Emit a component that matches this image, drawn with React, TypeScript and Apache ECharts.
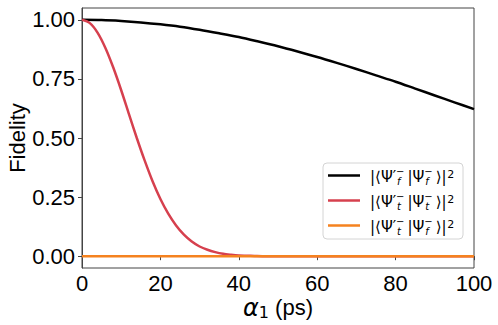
import { useEffect, useRef } from "react";
import * as echarts from "echarts";

// Readings from the reference (x in ps, y = fidelity)
const xFF = [0, 5, 10, 15, 20, 25, 30, 35, 40, 45, 50, 55, 60, 65, 70, 75, 80, 85, 90, 95, 100];
const fidelityFF = [1, 0.999, 0.995, 0.989, 0.981, 0.971, 0.958, 0.943, 0.927, 0.908, 0.888, 0.866, 0.843, 0.818, 0.792, 0.765, 0.738, 0.709, 0.68, 0.651, 0.622];

const xTT = [0, 2, 4, 6, 8, 10, 12, 14, 16, 18, 20, 22, 24, 26, 28, 30, 32, 34, 36, 38, 40, 42, 44, 46, 48, 50, 60, 70, 80, 90, 100];
const fidelityTT = [1, 0.986, 0.945, 0.88, 0.797, 0.702, 0.6, 0.499, 0.404, 0.317, 0.242, 0.18, 0.13, 0.091, 0.062, 0.041, 0.027, 0.017, 0.01, 0.006, 0.003, 0.002, 0.001, 0, 0, 0, 0, 0, 0, 0, 0];

const xTF = [0, 20, 40, 60, 80, 100];
const fidelityTF = [0, 0, 0, 0, 0, 0];

const yTicks = [0, 0.25, 0.5, 0.75, 1];
const seriesNames = ["FF", "TT", "TF"];
const subFirst = ["f", "t", "t"];
const subSecond = ["f", "t", "f"];
const colors = ["#000000", "#d6404e", "#f5821f"];

const pairs = (xs: number[], ys: number[]) => xs.map((x, i) => [x, ys[i]]);

export default function App() {
  const ref = useRef<HTMLDivElement>(null);
  useEffect(() => {
    const chart = echarts.init(ref.current!, null, { renderer: "svg" });
    const mathFont = "DejaVu Sans";
    const textFont = "Liberation Sans, Arial";

    const ctx = document.createElement("canvas").getContext("2d")!;
    const measure = (text: string, size: number, italic = false) => {
      ctx.font = `${italic ? "italic " : ""}${size}px "${mathFont}"`;
      return ctx.measureText(text).width;
    };

    const mainSize = 15;
    const scriptSize = 10;
    const legendX = 370;
    const legendGraphics: any[] = [
      {
        type: "rect",
        z: 100,
        shape: { x: 323, y: 163, width: 140, height: 76, r: 4 },
        style: { fill: "rgba(255,255,255,0.85)", stroke: "#d4d4d4", lineWidth: 1 },
      },
    ];
    seriesNames.forEach((_, i) => {
      const ly = 175.5 + i * 25;
      const y = ly + 1.5;
      const t = (text: string, x: number, yy: number, size: number, va: string, italic = false) => ({
        type: "text",
        z: 101,
        x,
        y: yy,
        style: {
          text,
          fontSize: size,
          fontFamily: mathFont,
          fontStyle: italic ? "italic" : "normal",
          fill: "#000",
          verticalAlign: va,
          align: "left",
        },
      });
      legendGraphics.push({
        type: "line",
        z: 101,
        shape: { x1: 328, y1: ly, x2: 360, y2: ly },
        style: { stroke: colors[i], lineWidth: 2.5 },
      });
      let x = legendX;
      const main = (s: string) => {
        legendGraphics.push(t(s, x, y, mainSize, "middle"));
        x += measure(s, mainSize);
      };
      const stack = (sub: string) => {
        legendGraphics.push(t("−", x, y - 0.5, scriptSize, "bottom"));
        legendGraphics.push(t(sub, x + 1, y - 0.5, scriptSize, "top", true));
        x += Math.max(measure("−", scriptSize), measure(sub, scriptSize, true) + 1);
      };
      main("|⟨Ψ′");
      stack(subFirst[i]);
      x += 3;
      main("|Ψ");
      stack(subSecond[i]);
      x += 3;
      main("⟩|");
      legendGraphics.push(t("2", x + 0.5, y - 3, 11, "middle"));
    });

    const axisColor = "#444";
    const option: any = {
      animation: false,
      grid: {
        left: 82,
        right: 24,
        top: 8,
        bottom: 57,
        show: true,
        borderColor: axisColor,
        borderWidth: 1,
        backgroundColor: "transparent",
        containLabel: false,
        outerBoundsMode: "none",
      },
      xAxis: {
        type: "value",
        min: 0,
        max: 100,
        interval: 20,
        axisLine: { show: true, lineStyle: { color: axisColor, width: 1 } },
        axisTick: { show: true, inside: false, length: 4, lineStyle: { color: axisColor } },
        splitLine: { show: false },
        axisLabel: {
          color: "#000",
          fontSize: 22,
          fontFamily: textFont,
          margin: 4,
        },
        name: "{a|α}{s|1}{b| (ps)}",
        nameLocation: "middle",
        nameGap: 27,
        nameMoveOverlap: false,
        nameTextStyle: {
          rich: {
            a: { fontSize: 24, fontFamily: mathFont, fontStyle: "italic", color: "#000" },
            s: { fontSize: 16, fontFamily: mathFont, color: "#000", verticalAlign: "bottom", padding: [9, 0, 0, 0] },
            b: { fontSize: 22, fontFamily: textFont, color: "#000" },
          },
        },
      },
      yAxis: {
        type: "value",
        min: -0.05,
        max: 1.05,
        axisLine: { show: true, lineStyle: { color: axisColor, width: 1 } },
        axisTick: { show: true, inside: false, length: 4, lineStyle: { color: axisColor }, customValues: yTicks },
        splitLine: { show: false },
        axisLabel: {
          color: "#000",
          fontSize: 22,
          fontFamily: textFont,
          margin: 7,
          customValues: yTicks,
          formatter: (v: number) => v.toFixed(2),
        },
        name: "Fidelity",
        nameLocation: "middle",
        nameGap: 54,
        nameMoveOverlap: false,
        nameTextStyle: { color: "#000", fontSize: 22, fontFamily: textFont },
      },
      graphic: legendGraphics,
      series: [
        {
          name: seriesNames[0],
          type: "line",
          data: pairs(xFF, fidelityFF),
          showSymbol: false,
          smooth: 0.3,
          lineStyle: { color: colors[0], width: 2.5 },
          itemStyle: { color: colors[0] },
        },
        {
          name: seriesNames[1],
          type: "line",
          data: pairs(xTT, fidelityTT),
          showSymbol: false,
          smooth: 0.3,
          lineStyle: { color: colors[1], width: 2.5 },
          itemStyle: { color: colors[1] },
        },
        {
          name: seriesNames[2],
          type: "line",
          data: pairs(xTF, fidelityTF),
          showSymbol: false,
          lineStyle: { color: colors[2], width: 2.5 },
          itemStyle: { color: colors[2] },
        },
      ],
    };
    chart.setOption(option);
    return () => chart.dispose();
  }, []);
  return (
    <div
      ref={ref}
      style={{ position: "fixed", left: 0, top: 0, width: 498, height: 325, background: "#fff" }}
    />
  );
}
